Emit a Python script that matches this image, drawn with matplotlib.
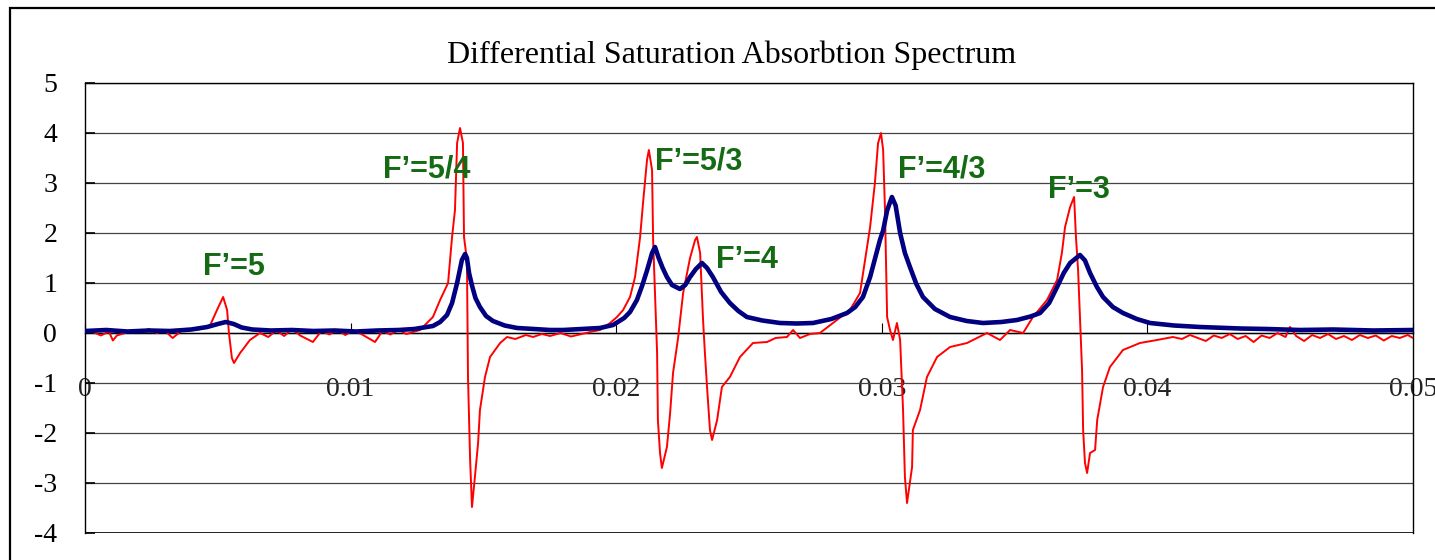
import matplotlib
matplotlib.use("Agg")
import matplotlib.pyplot as plt
from matplotlib.patches import Rectangle

# saturated absorption signal (navy)
blue_x = [0.0, 0.0008, 0.0016, 0.0024, 0.0032, 0.0040, 0.0046, 0.0050, 0.0053, 0.0056,
          0.0059, 0.0063, 0.0070, 0.0078, 0.0086, 0.0094, 0.0102, 0.0110, 0.0118, 0.0124,
          0.0131, 0.01337, 0.01363, 0.01382, 0.01401, 0.01419, 0.01431, 0.01438, 0.01446,
          0.01457, 0.0147, 0.01487, 0.0151, 0.01536, 0.0158, 0.01627, 0.0169, 0.01751,
          0.018, 0.0187, 0.01939, 0.01988, 0.0203, 0.02052, 0.02078, 0.02098, 0.02116,
          0.02135, 0.02146, 0.0216, 0.02175, 0.02191, 0.0221, 0.0224, 0.0226, 0.02278,
          0.023, 0.02323, 0.02342, 0.02364, 0.02395, 0.02428, 0.0246, 0.02492, 0.0255,
          0.02617, 0.0268, 0.02741, 0.0281, 0.02869, 0.029, 0.02929, 0.02956, 0.02975,
          0.02993, 0.03005, 0.0302, 0.03038, 0.03052, 0.03069, 0.03087, 0.03106, 0.0313,
          0.03155, 0.032, 0.03257, 0.0332, 0.03381, 0.0345, 0.03509, 0.0356, 0.03596,
          0.0363, 0.0366, 0.03685, 0.03709, 0.03746, 0.03765, 0.03784, 0.0381, 0.03833,
          0.0387, 0.03908, 0.0396, 0.0401, 0.041, 0.04198, 0.0435, 0.0445, 0.04575,
          0.047, 0.0485, 0.05]
blue_y = [0.04, 0.06, 0.03, 0.05, 0.04, 0.07, 0.12, 0.18, 0.22, 0.18,
          0.11, 0.07, 0.05, 0.06, 0.04, 0.05, 0.03, 0.05, 0.06, 0.08,
          0.14, 0.22, 0.36, 0.6, 1.0, 1.46, 1.58, 1.5, 1.2,
          0.95, 0.7, 0.52, 0.34, 0.24, 0.15, 0.1, 0.08, 0.06,
          0.06, 0.08, 0.1, 0.16, 0.3, 0.42, 0.66, 0.95, 1.25,
          1.6, 1.72, 1.5, 1.3, 1.12, 0.96, 0.88, 0.96, 1.12,
          1.28, 1.4, 1.3, 1.12, 0.82, 0.6, 0.44, 0.32, 0.25,
          0.2, 0.19, 0.2, 0.28, 0.4, 0.52, 0.72, 1.12, 1.5,
          1.86, 2.05, 2.45, 2.72, 2.55, 2.0, 1.6, 1.32, 0.98,
          0.72, 0.48, 0.32, 0.24, 0.2, 0.22, 0.26, 0.33, 0.4,
          0.6, 0.92, 1.2, 1.4, 1.56, 1.45, 1.2, 0.92, 0.72,
          0.52, 0.4, 0.28, 0.2, 0.15, 0.12, 0.09, 0.08, 0.06,
          0.07, 0.05, 0.06]

# derivative signal (red)
red_x = [0.0, 0.0003, 0.0006, 0.0009, 0.00105, 0.0012, 0.0015, 0.0018, 0.0021, 0.0024,
         0.0027, 0.0030, 0.0033, 0.0036, 0.0039, 0.0042, 0.0045, 0.0047, 0.00497, 0.0052,
         0.00535, 0.00542, 0.00553, 0.00561, 0.00584, 0.00621, 0.00659, 0.0069, 0.0072, 0.0075,
         0.0078, 0.0081, 0.00858, 0.0089, 0.0092, 0.0095, 0.0098, 0.0101, 0.0104, 0.01092,
         0.0112, 0.0115, 0.0118, 0.0121, 0.01261, 0.0131, 0.01337, 0.01367, 0.01382, 0.01393,
         0.01401, 0.01412, 0.01423, 0.01427, 0.01438, 0.01442, 0.0145, 0.01457, 0.01468, 0.0148,
         0.01487, 0.01506, 0.01525, 0.01563, 0.01589, 0.0162, 0.0166, 0.01687, 0.0172, 0.01751,
         0.0179, 0.0183, 0.0187, 0.0191, 0.01939, 0.01977, 0.02003, 0.02026, 0.02052, 0.02071,
         0.0209, 0.02101, 0.02116, 0.02123, 0.02135, 0.02139, 0.02154, 0.02157, 0.02165, 0.02172,
         0.02191, 0.02203, 0.02214, 0.02233, 0.02252, 0.02278, 0.02297, 0.02304, 0.02316, 0.02327,
         0.02334, 0.02342, 0.02353, 0.02361, 0.0238, 0.02398, 0.02428, 0.02466, 0.02515, 0.02568,
         0.026, 0.02643, 0.02666, 0.02692, 0.0273, 0.02767, 0.02816, 0.0288, 0.02918, 0.02956,
         0.02974, 0.02986, 0.02997, 0.03005, 0.03012, 0.0302, 0.03031, 0.03042, 0.03057, 0.03069,
         0.0308, 0.03087, 0.03095, 0.03114, 0.03117, 0.03144, 0.0317, 0.03208, 0.03257, 0.03321,
         0.03396, 0.03445, 0.03483, 0.03532, 0.03569, 0.03622, 0.0366, 0.03678, 0.0369, 0.03709,
         0.03724, 0.03731, 0.03739, 0.03754, 0.03758, 0.03765, 0.03773, 0.03784, 0.03803, 0.03811,
         0.03833, 0.03859, 0.03908, 0.03972, 0.04036, 0.04096, 0.0413, 0.0416, 0.0419, 0.0422,
         0.0425, 0.0428, 0.0431, 0.0434, 0.0437, 0.0440, 0.0443, 0.0446, 0.0449, 0.0452,
         0.04537, 0.0456, 0.0459, 0.0462, 0.0465, 0.0468, 0.0471, 0.0474, 0.0477, 0.0480,
         0.0483, 0.0486, 0.0489, 0.0492, 0.0495, 0.0498, 0.05]
red_y = [0.05, 0.02, -0.05, 0.03, -0.15, -0.05, 0.0, 0.06, 0.02, 0.08,
         0.0, 0.05, -0.1, 0.03, 0.08, 0.06, 0.1, 0.14, 0.46, 0.72,
         0.46, 0.0, -0.5, -0.6, -0.4, -0.14, 0.0, -0.08, 0.05, -0.06,
         0.08, -0.05, -0.18, 0.04, -0.03, 0.06, -0.04, 0.05, -0.02, -0.18,
         0.04, -0.03, 0.06, -0.02, 0.06, 0.32, 0.66, 1.0, 1.92, 2.46,
         3.8, 4.1, 3.8, 1.92, 1.46, -0.88, -2.54, -3.48, -2.88, -2.2,
         -1.54, -0.88, -0.48, -0.2, -0.08, -0.12, -0.04, -0.08, -0.02, -0.06,
         0.0, -0.07, -0.02, 0.03, 0.06, 0.2, 0.32, 0.46, 0.72, 1.12,
         1.92, 2.6, 3.46, 3.66, 3.26, 1.86, -0.4, -1.74, -2.4, -2.7,
         -2.28, -1.6, -0.8, -0.1, 0.8, 1.5, 1.86, 1.92, 1.6, 0.26,
         -0.4, -1.08, -1.94, -2.14, -1.74, -1.08, -0.88, -0.48, -0.2, -0.18,
         -0.1, -0.08, 0.06, -0.1, -0.02, 0.0, 0.2, 0.46, 0.8, 2.12,
         3.0, 3.8, 4.0, 3.66, 2.46, 0.32, 0.06, -0.14, 0.2, -0.14,
         -1.54, -2.88, -3.4, -2.68, -1.94, -1.54, -0.88, -0.48, -0.28, -0.2,
         0.0, -0.14, 0.06, 0.0, 0.32, 0.66, 1.06, 1.6, 2.12, 2.52,
         2.72, 1.92, 1.26, -0.74, -1.94, -2.6, -2.8, -2.4, -2.34, -1.74,
         -1.08, -0.68, -0.34, -0.2, -0.14, -0.08, -0.12, -0.04, -0.1, -0.16,
         -0.05, -0.1, -0.02, -0.12, -0.06, -0.18, -0.05, -0.1, 0.0, -0.08,
         0.12, -0.06, -0.16, -0.04, -0.1, -0.02, -0.12, -0.06, -0.14, -0.04,
         -0.1, -0.05, -0.15, -0.06, -0.1, -0.04, -0.1]

peak_labels = ["F\u2019=5", "F\u2019=5/4", "F\u2019=5/3", "F\u2019=4", "F\u2019=4/3", "F\u2019=3"]
label_x = [0.00444, 0.01122, 0.02146, 0.02376, 0.03061, 0.03626]
label_y = [1.32, 3.28, 3.42, 1.46, 3.26, 2.86]

x_ticks = [0, 0.01, 0.02, 0.03, 0.04, 0.05]
x_tick_labels = ["0", "0.01", "0.02", "0.03", "0.04", "0.05"]
y_ticks = [-4, -3, -2, -1, 0, 1, 2, 3, 4, 5]

plt.rcParams['axes.unicode_minus'] = False
serif = ['Liberation Serif', 'DejaVu Serif']

fig = plt.figure(figsize=(14.35, 5.6), dpi=100)
ax = fig.add_axes([85/1435, 1 - 533/560, 1328/1435, 450/560])

ax.plot(red_x, red_y, color='#ff0000', lw=1.4, zorder=3)
ax.plot(blue_x, blue_y, color='#000080', lw=3.3, zorder=4)

# x axis crosses at y = 0 (this resets ticks, so do it first)
ax.spines['bottom'].set_position(('data', 0))
for s in ax.spines.values():
    s.set_color('black')
    s.set_linewidth(1.0)

ax.set_xlim(0, 0.05)
ax.set_ylim(-4, 5)
ax.set_yticks(y_ticks)
ax.set_yticklabels([str(v) for v in y_ticks], family=serif, fontsize=20)
ax.set_xticks(x_ticks)
ax.set_xticklabels(x_tick_labels, family=serif, fontsize=20, color='#222222')
ax.grid(axis='y', color='#444444', lw=0.9)
ax.set_axisbelow(True)

ax.axhline(-4, color='black', lw=1.2, zorder=2)
ax.tick_params(axis='x', direction='in', length=7, pad=32, width=0.8)
ax.tick_params(axis='y', direction='in', length=7, pad=20, width=1.2)

for t, xx, yy in zip(peak_labels, label_x, label_y):
    ax.text(xx, yy, t, ha='left', va='center', fontsize=22, fontweight='bold',
            family=['Liberation Sans', 'DejaVu Sans'], color='#146b14', zorder=5)

fig.text(732/1435, 1 - 55/560, "Differential Saturation Absorbtion Spectrum",
         ha='center', va='center', family=serif, fontsize=23)

fig.patches.append(Rectangle((10/1435, -0.1), 2, 1.1 - 8/560, transform=fig.transFigure,
                             fill=False, edgecolor='black', lw=1.6))

fig.savefig("out.png", dpi=100)
